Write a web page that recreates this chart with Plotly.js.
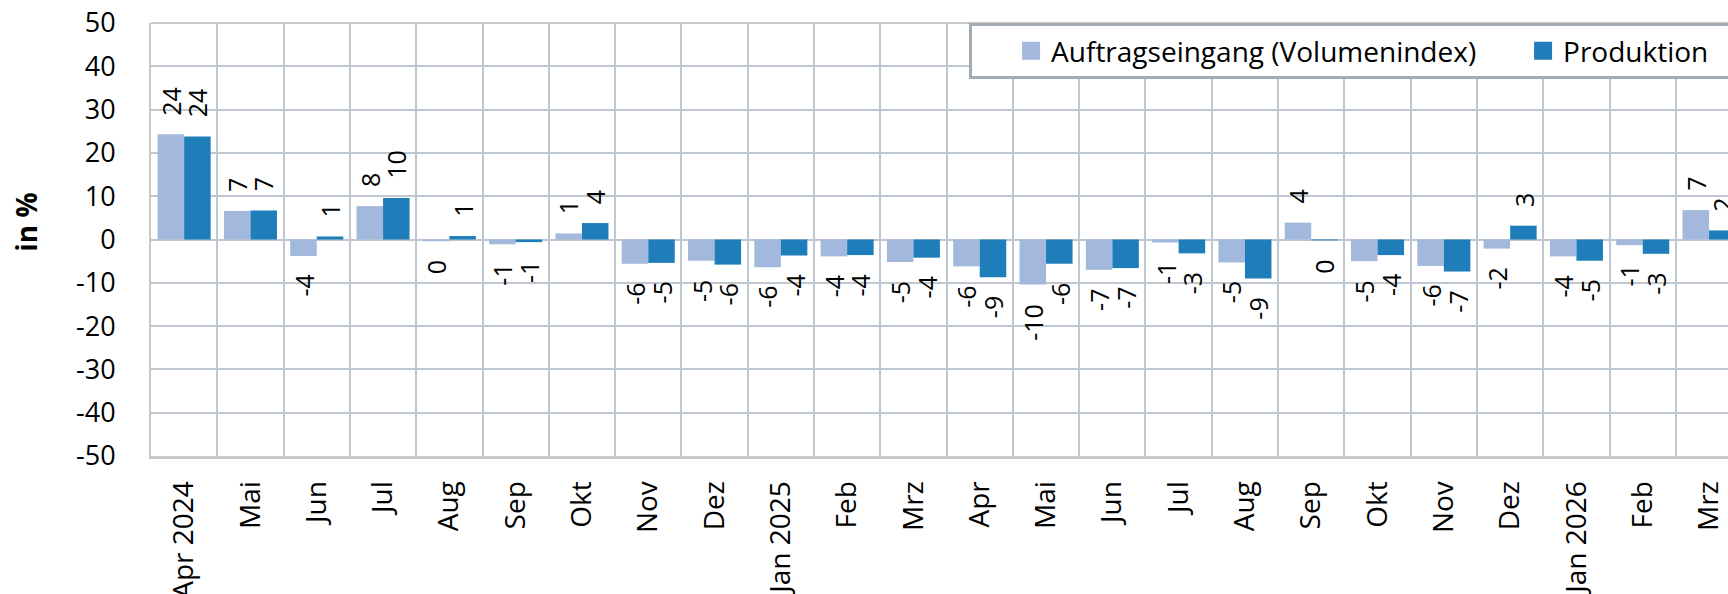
<!DOCTYPE html>
<html>
<head>
<meta charset="utf-8">
<script src="https://cdn.plot.ly/plotly-3.0.1.min.js"></script>
<style>
html,body{margin:0;padding:0;overflow:hidden;background:#fff}
#chart{width:1728px;height:594px}
</style>
</head>
<body>
<div id="chart"></div>
<script>
const categories = ['Apr 2024','Mai 2024','Jun 2024','Jul 2024','Aug 2024','Sep 2024','Okt 2024','Nov 2024','Dez 2024',
  'Jan 2025','Feb 2025','Mrz 2025','Apr 2025','Mai 2025','Jun 2025','Jul 2025','Aug 2025','Sep 2025','Okt 2025','Nov 2025','Dez 2025',
  'Jan 2026','Feb 2026','Mrz 2026'];
const tickLabels = ['Apr 2024','Mai','Jun','Jul','Aug','Sep','Okt','Nov','Dez',
  'Jan 2025','Feb','Mrz','Apr','Mai','Jun','Jul','Aug','Sep','Okt','Nov','Dez',
  'Jan 2026','Feb','Mrz'];
const auftragseingang = [24.3, 6.6, -3.8, 7.7, -0.4, -1.1, 1.4, -5.6, -4.9, -6.4, -3.9, -5.2,
  -6.2, -10.4, -7.0, -0.7, -5.3, 3.9, -5.0, -6.1, -2.1, -3.9, -1.3, 6.8];
const produktion = [23.8, 6.7, 0.7, 9.6, 0.8, -0.6, 3.8, -5.4, -5.8, -3.7, -3.6, -4.2,
  -8.7, -5.6, -6.6, -3.2, -9.0, -0.2, -3.6, -7.4, 3.2, -4.9, -3.3, 2.1];
const seriesNames = ['Auftragseingang (Volumenindex)', 'Produktion'];
const yTickValues = [-50, -40, -30, -20, -10, 0, 10, 20, 30, 40, 50];
const yAxisTitle = 'in %';

const FONT = 'Open Sans, Noto Sans, sans-serif';
const colors = ['#A2B8DC', '#1F7EBA'];
const series = [auftragseingang, produktion];

function fmt(v) {
  const r = Math.sign(v) * Math.round(Math.abs(v));
  return String(r === 0 ? 0 : r);
}

const traces = series.map((vals, s) => ({
  type: 'bar',
  name: seriesNames[s],
  x: categories,
  y: vals,
  marker: {color: colors[s], line: {width: 0}},
  showlegend: false,
  legendgroup: 'g' + s
}));
// legend entries (larger square swatches than the default bar swatch)
series.forEach((vals, s) => {
  traces.push({
    type: 'scatter', mode: 'markers', name: seriesNames[s],
    x: [null], y: [null],
    marker: {symbol: 'square', size: 16, color: colors[s], line: {width: 2, color: colors[s]}},
    showlegend: true, legendgroup: 'g' + s, hoverinfo: 'skip'
  });
});

const annotations = [];
series.forEach((vals, s) => {
  vals.forEach((v, i) => {
    annotations.push({
      xref: 'x', yref: 'y', x: categories[i], y: v,
      text: fmt(v), showarrow: false, textangle: -90,
      xanchor: 'center', yanchor: v >= 0 ? 'bottom' : 'top',
      xshift: s === 0 ? -13.25 : 13.25,
      yshift: v >= 0 ? 17 : -17,
      font: {family: FONT, size: 25, color: '#000'}
    });
  });
});
annotations.push({
  xref: 'paper', yref: 'paper', x: -0.0793, y: 0.541,
  text: '<b>' + yAxisTitle + '</b>', showarrow: false, textangle: -90,
  xanchor: 'center', yanchor: 'middle',
  font: {family: FONT, size: 28, color: '#000'}
});

const layout = {
  width: 1728, height: 594,
  margin: {l: 151, r: 0, t: 23, b: 138, autoexpand: false},
  paper_bgcolor: '#fff', plot_bgcolor: '#fff',
  font: {family: FONT, size: 27, color: '#000'},
  barmode: 'group', bargap: 0.2, bargroupgap: 0,
  showlegend: true,
  legend: {
    orientation: 'h', x: 0.5187, xanchor: 'left', y: 1, yanchor: 'top',
    bgcolor: '#fff', bordercolor: '#A3ACB4', borderwidth: 3,
    font: {family: FONT, size: 28, color: '#000'},
    itemsizing: 'trace', traceorder: 'normal',
    title: {text: '\u00a0\u00a0\u00a0\u00a0', side: 'left', font: {family: FONT, size: 28}},
    entrywidth: 467, entrywidthmode: 'pixels'
  },
  xaxis: {
    type: 'category', range: [-0.5, 23.286],
    tickmode: 'array', tickvals: categories, ticktext: tickLabels,
    tickangle: -90, tickson: 'boundaries', ticks: '',
    ticklabelstandoff: 11,
    showgrid: true, gridcolor: '#BFC8D1', gridwidth: 2,
    showline: true, linecolor: '#C8C8C8', linewidth: 3, mirror: false,
    tickfont: {family: FONT, size: 28, color: '#000'},
    fixedrange: true
  },
  yaxis: {
    range: [-50, 50], tickmode: 'array', tickvals: yTickValues,
    ticktext: yTickValues.map(String),
    ticks: '', ticklabelstandoff: 28,
    showgrid: true, gridcolor: '#BFC8D1', gridwidth: 2,
    zeroline: true, zerolinecolor: '#BFC8D1', zerolinewidth: 2,
    showline: true, linecolor: '#C8C8C8', linewidth: 2,
    tickfont: {family: FONT, size: 27, color: '#000'},
    fixedrange: true
  },
  shapes: [{
    type: 'line', xref: 'paper', yref: 'paper', x0: 0, x1: 1, y0: 1, y1: 1,
    line: {color: '#C8C8C8', width: 2}
  }],
  annotations: annotations
};

Plotly.newPlot('chart', traces, layout, {displayModeBar: false, staticPlot: true});
</script>
</body>
</html>
